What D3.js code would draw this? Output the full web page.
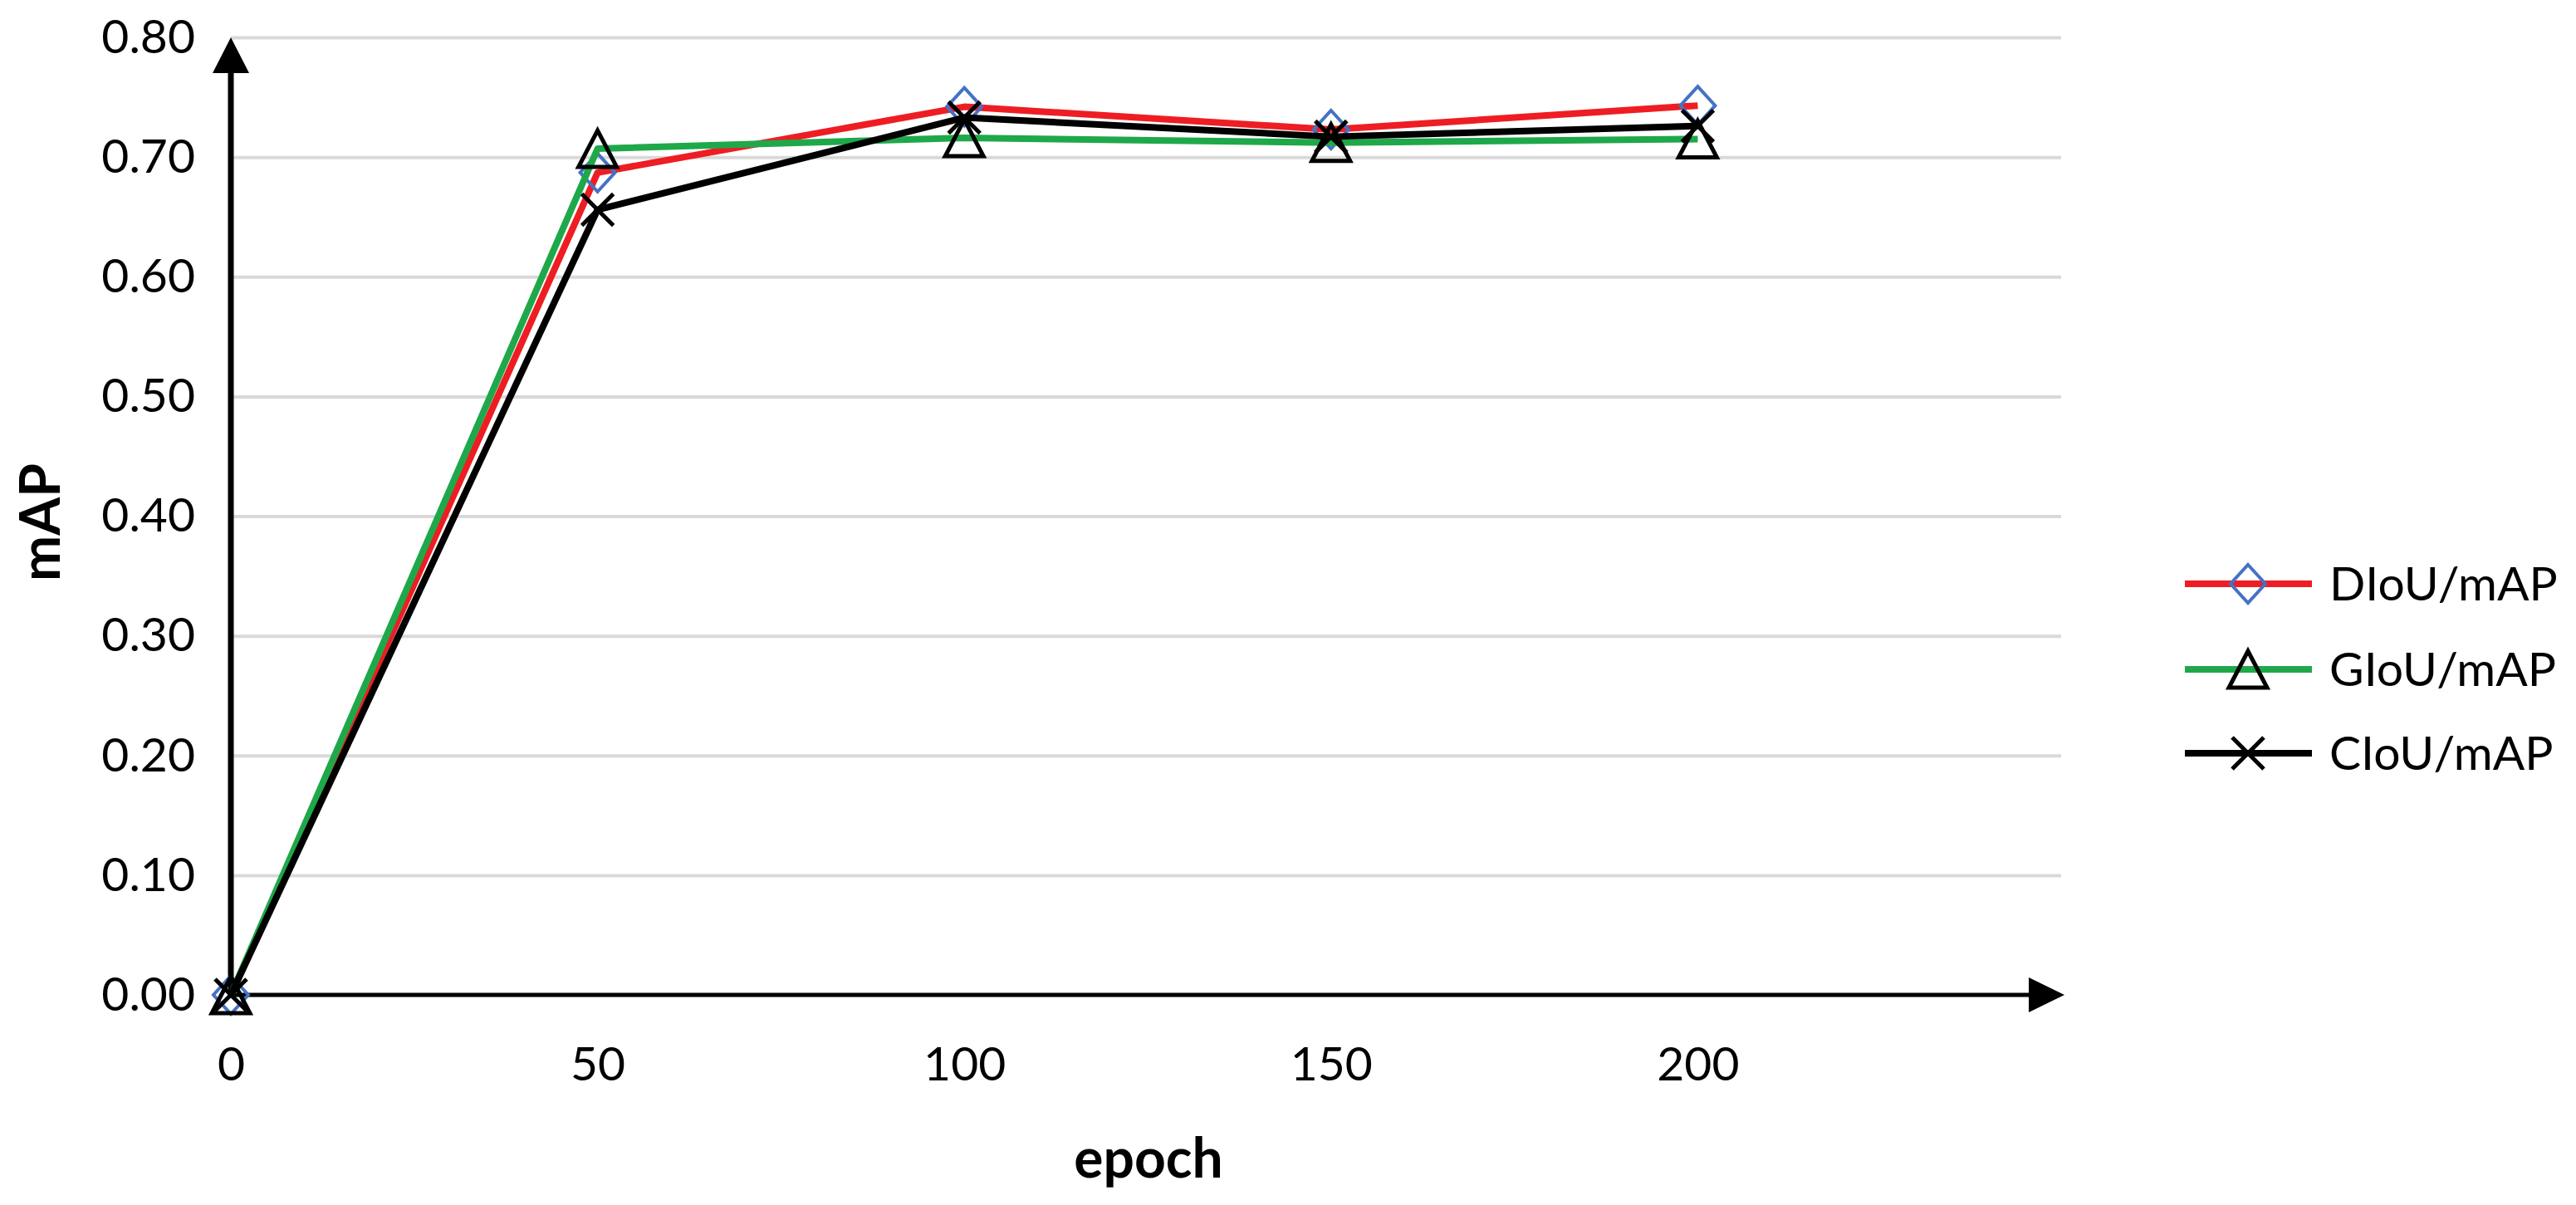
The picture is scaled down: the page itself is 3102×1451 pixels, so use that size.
<!DOCTYPE html>
<html><head><meta charset="utf-8">
<script src="https://cdn.jsdelivr.net/npm/d3@7"></script>
<style>body{margin:0;background:#fff;overflow:hidden}</style>
</head><body>
<svg id="chart" width="3102" height="1451"></svg>
<script>
const epochs = [0, 50, 100, 150, 200];
const diouMAP = [0.000, 0.687, 0.742, 0.723, 0.743];
const giouMAP = [0.000, 0.707, 0.716, 0.712, 0.715];
const ciouMAP = [0.000, 0.656, 0.733, 0.717, 0.726];
const seriesNames = ["DIoU/mAP", "GIoU/mAP", "CIoU/mAP"];
const xTicks = [0, 50, 100, 150, 200];
const yTicks = [0.0, 0.1, 0.2, 0.3, 0.4, 0.5, 0.6, 0.7, 0.8];
const xLabel = "epoch";
const yLabel = "mAP";

const svg = d3.select("#chart");
const FONT = "Lato, 'Open Sans', sans-serif";
const x = d3.scaleLinear().domain([0, 250]).range([278, 2486]);
const y = d3.scaleLinear().domain([0, 0.8]).range([1198, 45]);
const gridRight = 2482;

// gridlines
const grid = svg.append("g").attr("transform", `translate(${x(0)},0)`)
  .call(d3.axisLeft(y).tickValues(yTicks).tickSize(-(gridRight - x(0))).tickFormat(""));
grid.select(".domain").remove();
grid.selectAll("line").attr("stroke", "#d9d9d9").attr("stroke-width", 4);

// y tick labels
const ya = svg.append("g").attr("transform", `translate(${x(0)},0)`)
  .call(d3.axisLeft(y).tickValues(yTicks).tickSize(0).tickPadding(43).tickFormat(d3.format(".2f")));
ya.select(".domain").remove();
ya.selectAll("text").attr("font-family", FONT).attr("font-size", 57).attr("fill", "#000");

// x tick labels
const xa = svg.append("g").attr("transform", `translate(0,${y(0)})`)
  .call(d3.axisBottom(x).tickValues(xTicks).tickSize(0).tickPadding(63));
xa.select(".domain").remove();
xa.selectAll("text").attr("font-family", FONT).attr("font-size", 57).attr("fill", "#000");

// axis lines with arrows
svg.append("line").attr("x1", x(0)).attr("x2", x(0)).attr("y1", y(0) + 2).attr("y2", y(0.8) + 40)
  .attr("stroke", "#000").attr("stroke-width", 7);
svg.append("path").attr("d", `M${x(0)},${y(0.8)} L${x(0) - 22},${y(0.8) + 43} L${x(0) + 22},${y(0.8) + 43} Z`).attr("fill", "#000");
svg.append("line").attr("x1", x(0)).attr("x2", x(250) - 40).attr("y1", y(0)).attr("y2", y(0))
  .attr("stroke", "#000").attr("stroke-width", 5);
svg.append("path").attr("d", `M${x(250)},${y(0)} L${x(250) - 43},${y(0) - 21} L${x(250) - 43},${y(0) + 21} Z`).attr("fill", "#000");

// axis titles
svg.append("text").attr("x", 1383).attr("y", 1418).attr("text-anchor", "middle")
  .attr("font-family", FONT).attr("font-weight", "bold").attr("font-size", 66).text(xLabel);
svg.append("text").attr("transform", "translate(72,629) rotate(-90)").attr("text-anchor", "middle")
  .attr("font-family", FONT).attr("font-weight", "bold").attr("font-size", 66).text(yLabel);

// markers
function drawMarker(g, type, cx, cy) {
  if (type === "diamond") {
    g.append("path").attr("d", `M${cx},${cy - 23} L${cx + 21},${cy} L${cx},${cy + 23} L${cx - 21},${cy} Z`)
      .attr("fill", "none").attr("stroke", "#4472c4").attr("stroke-width", 4);
  } else if (type === "triangle") {
    g.append("path").attr("d", `M${cx},${cy - 22} L${cx + 23},${cy + 22} L${cx - 23},${cy + 22} Z`)
      .attr("fill", "none").attr("stroke", "#000").attr("stroke-width", 5);
  } else {
    g.append("path").attr("d", `M${cx - 19},${cy - 19} L${cx + 19},${cy + 19} M${cx + 19},${cy - 19} L${cx - 19},${cy + 19}`)
      .attr("fill", "none").attr("stroke", "#000").attr("stroke-width", 5);
  }
}

const series = [
  { name: seriesNames[0], values: diouMAP, color: "#ee1d23", marker: "diamond" },
  { name: seriesNames[1], values: giouMAP, color: "#1fa84a", marker: "triangle" },
  { name: seriesNames[2], values: ciouMAP, color: "#000000", marker: "x" }
];

const line = d3.line().x(d => x(d[0])).y(d => y(d[1]));
series.forEach(s => {
  const pts = epochs.map((e, i) => [e, s.values[i]]);
  const g = svg.append("g");
  g.append("path").attr("d", line(pts)).attr("fill", "none").attr("stroke", s.color)
    .attr("stroke-width", 8).attr("stroke-linejoin", "round");
  pts.forEach(p => drawMarker(g, s.marker, x(p[0]), y(p[1])));
});

// legend
const legendY = [703, 806, 907];
series.forEach((s, i) => {
  const g = svg.append("g");
  g.append("line").attr("x1", 2631).attr("x2", 2784).attr("y1", legendY[i]).attr("y2", legendY[i])
    .attr("stroke", s.color).attr("stroke-width", 8);
  drawMarker(g, s.marker, 2707, legendY[i]);
  g.append("text").attr("x", 2805).attr("y", legendY[i]).attr("dy", "0.35em")
    .attr("font-family", FONT).attr("font-size", 57).text(s.name);
});
</script>
</body></html>
